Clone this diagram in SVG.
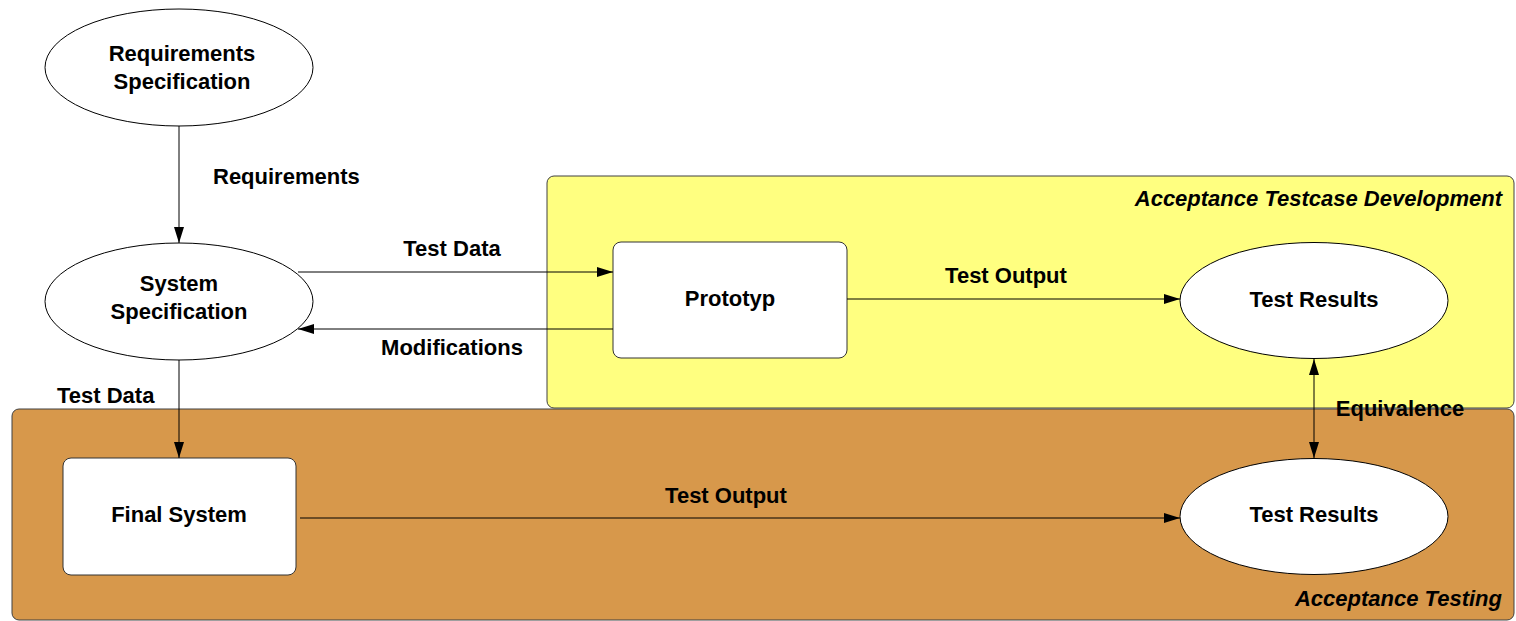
<svg xmlns="http://www.w3.org/2000/svg" width="1516" height="621" viewBox="0 0 1516 621">
<style>
.lbl{font-family:"Liberation Sans",Arial,sans-serif;font-weight:bold;font-size:22px;fill:#000}
.ttl{font-family:"Liberation Sans",Arial,sans-serif;font-weight:bold;font-style:italic;font-size:22px;fill:#000}
.node{fill:#fff;stroke:#000;stroke-width:1}
.box{fill:#fff;stroke:#333;stroke-width:1}
.edge{fill:none;stroke:#000;stroke-width:1}
</style>
<defs>
<marker id="ah" viewBox="0 0 16 10" refX="16" refY="5" markerWidth="16" markerHeight="10" markerUnits="userSpaceOnUse" orient="auto-start-reverse">
<path d="M0,0 L16,5 L0,10 Z" fill="#000"/>
</marker>
</defs>
<rect width="1516" height="621" fill="#fff"/>
<g id="acceptance-testcase-development">
<rect x="547" y="176" width="967" height="232" rx="7" fill="#ffff80" stroke="#404040" stroke-width="1"/>
<text class="ttl" x="1502" y="206" text-anchor="end">Acceptance Testcase Development</text>
</g>
<g id="acceptance-testing">
<rect x="12" y="409" width="1502" height="211" rx="7" fill="#d7984b" stroke="#404040" stroke-width="1"/>
<text class="ttl" x="1502" y="606" text-anchor="end">Acceptance Testing</text>
</g>
<g id="requirements-specification">
<ellipse class="node" cx="179" cy="67.5" rx="134" ry="58.5"/>
<text class="lbl" x="182" y="61" text-anchor="middle">Requirements</text>
<text class="lbl" x="182" y="89" text-anchor="middle">Specification</text>
</g>
<g id="system-specification">
<ellipse class="node" cx="179" cy="301.5" rx="134" ry="58.5"/>
<text class="lbl" x="179" y="291" text-anchor="middle">System</text>
<text class="lbl" x="179" y="319" text-anchor="middle">Specification</text>
</g>
<g id="prototyp">
<rect class="box" x="613" y="242" width="234" height="116" rx="8"/>
<text class="lbl" x="730" y="306" text-anchor="middle">Prototyp</text>
</g>
<g id="test-results-top">
<ellipse class="node" cx="1314" cy="300.5" rx="134" ry="58"/>
<text class="lbl" x="1314" y="307" text-anchor="middle">Test Results</text>
</g>
<g id="final-system">
<rect class="box" x="63" y="458" width="233" height="117" rx="8"/>
<text class="lbl" x="179" y="522" text-anchor="middle">Final System</text>
</g>
<g id="test-results-bottom">
<ellipse class="node" cx="1314" cy="516.5" rx="134" ry="58"/>
<text class="lbl" x="1314" y="522" text-anchor="middle">Test Results</text>
</g>
<g id="connectors">
<line class="edge" x1="179" y1="126" x2="179" y2="243" marker-end="url(#ah)"/>
<text class="lbl" x="213" y="184">Requirements</text>
<line class="edge" x1="298" y1="272" x2="613" y2="272" marker-end="url(#ah)"/>
<text class="lbl" x="452" y="256" text-anchor="middle">Test Data</text>
<line class="edge" x1="613" y1="329" x2="298" y2="329" marker-end="url(#ah)"/>
<text class="lbl" x="452" y="355" text-anchor="middle">Modifications</text>
<line class="edge" x1="847" y1="299" x2="1180" y2="299" marker-end="url(#ah)"/>
<text class="lbl" x="1006" y="283" text-anchor="middle">Test Output</text>
<line class="edge" x1="179" y1="360" x2="179" y2="458" marker-end="url(#ah)"/>
<text class="lbl" x="57" y="403">Test Data</text>
<line class="edge" x1="300" y1="518" x2="1180" y2="518" marker-end="url(#ah)"/>
<text class="lbl" x="726" y="503" text-anchor="middle">Test Output</text>
<line class="edge" x1="1314" y1="359" x2="1314" y2="458" marker-start="url(#ah)" marker-end="url(#ah)"/>
<text class="lbl" x="1400" y="416" text-anchor="middle">Equivalence</text>
</g>
</svg>
